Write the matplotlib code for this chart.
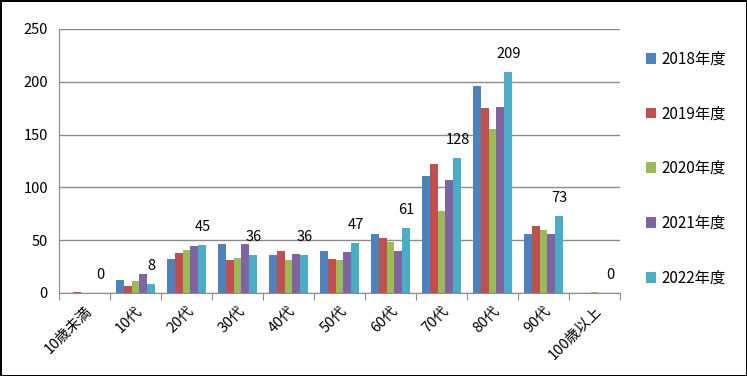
import matplotlib.pyplot as plt
import numpy as np

plt.rcParams['font.family'] = ['Noto Sans CJK JP', 'DejaVu Sans']

categories = ["10歳未満", "10代", "20代", "30代", "40代", "50代", "60代", "70代", "80代", "90代", "100歳以上"]
y2018 = [0, 12, 32, 46, 36, 40, 56, 111, 196, 56, 0]
y2019 = [1, 7, 38, 31, 40, 32, 52, 122, 175, 63, 0]
y2020 = [0, 11, 41, 33, 31, 31, 48, 78, 155, 60, 1]
y2021 = [0, 18, 44, 46, 37, 39, 40, 107, 176, 56, 0]
y2022 = [0, 8, 45, 36, 36, 47, 61, 128, 209, 73, 0]
series = ["2018年度", "2019年度", "2020年度", "2021年度", "2022年度"]
colors = ["#4F81BD", "#C0504D", "#9BBB59", "#8064A2", "#4BACC6"]

fig = plt.figure(figsize=(7.47, 3.76), dpi=100)
fig.patch.set_edgecolor("black")
fig.patch.set_linewidth(2)
ax = fig.add_axes([0.079, 0.221, 0.751, 0.702])

x = np.arange(len(categories))
w = 0.156
data = [y2018, y2019, y2020, y2021, y2022]
bars = []
for i, (vals, c) in enumerate(zip(data, colors)):
    b = ax.bar(x + (i - 2) * w, vals, w, color=c, label=series[i])
    bars.append(b)

# labels only on the 2022 series
for xi, v in zip(x, y2022):
    ax.annotate(str(v), (xi + 2 * w, v), xytext=(0, 8), textcoords="offset points",
                ha="center", va="bottom", fontsize=10.5)

ax.set_xlim(-0.5, len(categories) - 0.5)
ax.set_ylim(0, 250)
ax.set_yticks(range(0, 251, 50))
ax.yaxis.grid(True, color="#8c8c8c", linewidth=1)
ax.set_axisbelow(True)
ax.tick_params(axis="y", length=0, labelsize=10.5, pad=8)
ax.set_xticks(np.arange(-0.5, len(categories), 1), minor=False)
ax.set_xticklabels([])
ax.set_xticks(x, minor=True)
ax.set_xticklabels(categories, minor=True, rotation=45, ha="right", rotation_mode="anchor", fontsize=10.5)
ax.tick_params(axis="x", which="major", length=5, color="#8c8c8c", direction="out")
ax.tick_params(axis="x", which="minor", length=0, pad=8)
for s in ["top", "right"]:
    ax.spines[s].set_visible(False)
for s in ["left", "bottom"]:
    ax.spines[s].set_color("#8c8c8c")

fig.legend(handles=bars, labels=series, loc="upper left", bbox_to_anchor=(0.846, 0.902),
           frameon=False, fontsize=11, labelspacing=2.47, handlelength=0.7, handleheight=0.7,
           handletextpad=0.3)

fig.savefig("out.png", dpi=100)
